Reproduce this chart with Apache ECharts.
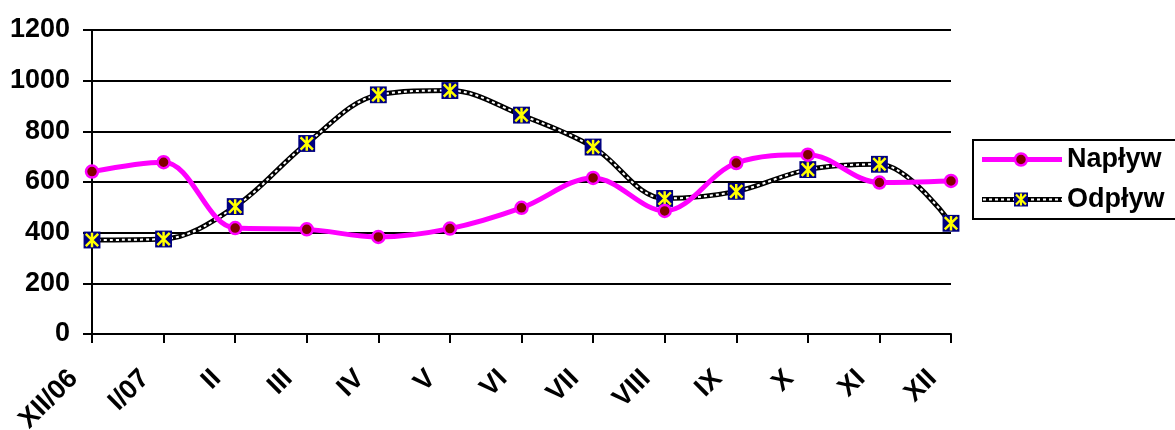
<!DOCTYPE html>
<html><head><meta charset="utf-8">
<script src="https://cdn.jsdelivr.net/npm/echarts@6/dist/echarts.min.js"></script>
<style>html,body{margin:0;padding:0;background:#fff}#c{width:1175px;height:430px}</style>
</head><body><div id="c"></div>
<script>
const categories = ['XII/06','I/07','II','III','IV','V','VI','VII','VIII','IX','X','XI','XII'];
const naplyw = [641, 678, 418, 413, 383, 416, 498, 616, 486, 675, 708, 598, 604];
const odplyw = [371, 375, 503, 752, 944, 961, 864, 738, 535, 563, 649, 670, 437];
const yTicks = [0, 200, 400, 600, 800, 1000, 1200];

const markerSvg = '<svg xmlns="http://www.w3.org/2000/svg" width="16" height="16" viewBox="0 0 16 16">' +
  '<rect x="0.5" y="0.5" width="15" height="15" fill="#000080"/>' +
  '<path d="M2.5 2.5 L13.5 13.5 M13.5 2.5 L2.5 13.5 M8 1.5 L8 14.5" stroke="#ffff00" stroke-width="2.2" fill="none"/></svg>';
const markerIcon = 'image://data:image/svg+xml;utf8,' + encodeURIComponent(markerSvg);

let dashes = '';
for (let x = 0; x < 80; x += 6) { if (x < 31 || x > 47) dashes += '<rect x="' + (x + 1) + '" y="7" width="3" height="2" fill="#fff"/>'; }
const legendSvgO = '<svg xmlns="http://www.w3.org/2000/svg" width="80" height="16" viewBox="0 0 80 16" preserveAspectRatio="none">' +
  '<rect x="0" y="5.5" width="80" height="5" fill="#000"/>' + dashes +
  '<rect x="32" y="1" width="14" height="14" fill="#000080"/>' +
  '<path d="M34 3 L44 13 M44 3 L34 13 M39 2 L39 14" stroke="#ffff00" stroke-width="2.2" fill="none"/></svg>';
const legendSvgN = '<svg xmlns="http://www.w3.org/2000/svg" width="80" height="16" viewBox="0 0 80 16" preserveAspectRatio="none">' +
  '<rect x="0" y="5.5" width="80" height="5" fill="#ff00ff"/>' +
  '<circle cx="39" cy="8" r="6" fill="#800000" stroke="#ff00ff" stroke-width="2.5"/></svg>';
const legendIconO = 'image://data:image/svg+xml;utf8,' + encodeURIComponent(legendSvgO);
const legendIconN = 'image://data:image/svg+xml;utf8,' + encodeURIComponent(legendSvgN);

const font = '"Liberation Sans", Arial, sans-serif';
const chart = echarts.init(document.getElementById('c'), null, {renderer: 'canvas'});
chart.setOption({
  animation: false,
  backgroundColor: '#fff',
  grid: {left: 92, right: 224, top: 30, bottom: 96, containLabel: false, outerBoundsMode: 'none'},
  legend: {
    orient: 'vertical', left: 973, top: 140,
    borderColor: '#000', borderWidth: 2, backgroundColor: '#fff',
    padding: [6, 40, 6, 9], itemGap: 13, itemWidth: 80, itemHeight: 16,
    textStyle: {fontFamily: font, fontWeight: 'bold', fontSize: 27, color: '#000'},
    data: [{name: 'Napływ', icon: legendIconN}, {name: 'Odpływ', icon: legendIconO}]
  },
  xAxis: {
    type: 'category', data: categories, boundaryGap: false,
    axisLine: {lineStyle: {color: '#000', width: 2}},
    axisTick: {show: true, length: 9, lineStyle: {color: '#000', width: 2}},
    axisLabel: {rotate: 45, interval: 0, margin: 22, padding: [0, 26, 0, 0],
      fontFamily: font, fontWeight: 'bold', fontSize: 27, color: '#000'}
  },
  yAxis: {
    type: 'value', min: yTicks[0], max: yTicks[yTicks.length - 1], interval: 200,
    axisLine: {show: true, lineStyle: {color: '#000', width: 2}},
    axisTick: {show: true, length: 9, lineStyle: {color: '#000', width: 2}},
    axisLabel: {margin: 22, fontFamily: font, fontWeight: 'bold', fontSize: 27, color: '#000',
      formatter: v => String(v)},
    splitLine: {lineStyle: {color: '#000', width: 2}}
  },
  series: [
    {name: 'Odpływ', type: 'line', data: odplyw, smooth: 0.35, z: 2,
      symbol: 'none', lineStyle: {color: '#000', width: 5}, itemStyle: {color: '#000'}},
    {name: 'Odpływ-dash', type: 'line', data: odplyw, smooth: 0.35, z: 3, silent: true,
      symbol: 'none', lineStyle: {color: '#fff', width: 2, type: [3, 3]}},
    {name: 'Odpływ-pts', type: 'line', data: odplyw, z: 4, silent: true,
      symbol: markerIcon, symbolSize: 18, lineStyle: {width: 0, opacity: 0}},
    {name: 'Napływ', type: 'line', data: naplyw, smooth: 0.35, z: 5,
      symbol: 'circle', symbolSize: 12,
      lineStyle: {color: '#ff00ff', width: 5},
      itemStyle: {color: '#800000', borderColor: '#ff00ff', borderWidth: 2.5}}
  ]
});
</script></body></html>
